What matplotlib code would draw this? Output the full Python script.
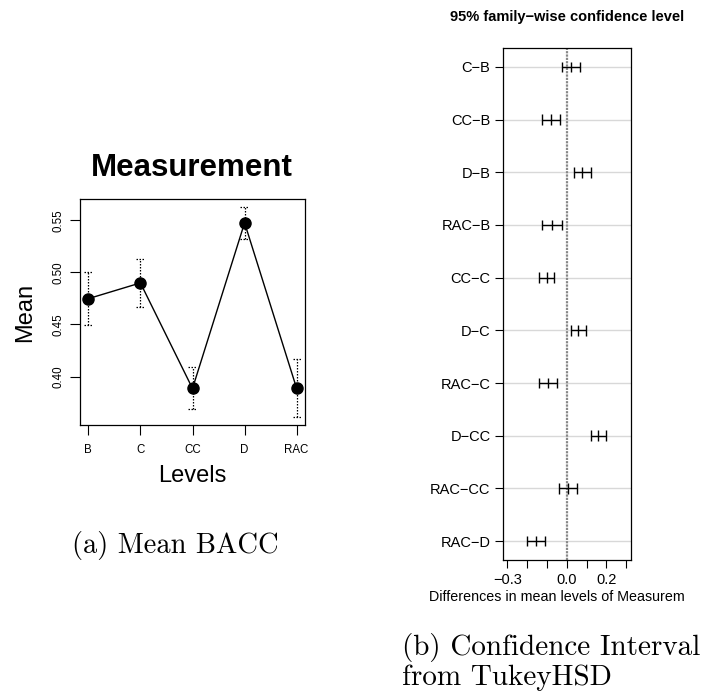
import matplotlib
matplotlib.use("Agg")
import matplotlib.pyplot as plt
import numpy as np

plt.rcParams["font.family"] = ["Liberation Sans", "DejaVu Sans"]

# Group means of BACC with their error bar limits
levels = ["B", "C", "CC", "D", "RAC"]
means = [0.4747, 0.4898, 0.3885, 0.5475, 0.3885]
err_low = [0.4497, 0.4667, 0.3686, 0.5321, 0.3615]
err_high = [0.5003, 0.5131, 0.4090, 0.5623, 0.4167]

# TukeyHSD pairwise differences (lower, estimate, upper)
pairs = ["C\u2212B", "CC\u2212B", "D\u2212B", "RAC\u2212B", "CC\u2212C",
         "D\u2212C", "RAC\u2212C", "D\u2212CC", "RAC\u2212CC", "RAC\u2212D"]
diff_lwr = [-0.022, -0.123, 0.037, -0.123, -0.140, 0.020, -0.140, 0.123, -0.039, -0.199]
diff_est = [0.020, -0.077, 0.079, -0.074, -0.101, 0.057, -0.094, 0.160, 0.007, -0.155]
diff_upr = [0.066, -0.034, 0.123, -0.024, -0.064, 0.096, -0.049, 0.197, 0.052, -0.109]
diff_ticks = [-0.3, -0.2, -0.1, 0.0, 0.1, 0.2, 0.3]
diff_ticklabels = ["\u22120.3", "", "", "0.0", "", "0.2", ""]

W, H = 702, 700
fig = plt.figure(figsize=(W / 100, H / 100), dpi=100)


def frac(x0, y0, x1, y1):
    return [x0 / W, 1 - y1 / H, (x1 - x0) / W, (y1 - y0) / H]


# ---- left panel: means plot ----
ax1 = fig.add_axes(frac(80, 199, 305, 425))
xpos = np.arange(1, len(levels) + 1)
ax1.plot(xpos, means, color="black", lw=1.0, zorder=2)
dots = (0, (1.2, 1.2))
ax1.vlines(xpos, err_low, err_high, colors="black", linestyles=dots, lw=0.9, zorder=1)
cap = 0.08
ax1.hlines(err_low, xpos - cap, xpos + cap, colors="black", linestyles=dots, lw=0.9)
ax1.hlines(err_high, xpos - cap, xpos + cap, colors="black", linestyles=dots, lw=0.9)
ax1.plot(xpos, means, "o", color="black", ms=8, zorder=3)
lo, hi = min(err_low), max(err_high)
pad = (hi - lo) * 0.04
ax1.set_ylim(lo - pad, hi + pad)
ax1.set_xlim(0.84, 5.16)
ax1.set_xticks(xpos)
ax1.set_xticklabels(levels, fontsize=8.3)
ax1.set_yticks([0.40, 0.45, 0.50, 0.55])
ax1.set_yticklabels(["0.40", "0.45", "0.50", "0.55"], fontsize=8.3, rotation=90, va="center")
ax1.tick_params(axis="x", length=7, width=0.8, pad=7)
ax1.tick_params(axis="y", length=7, width=0.8, pad=4)
for s in ax1.spines.values():
    s.set_linewidth(0.9)
ax1.set_xlabel("Levels", fontsize=17, labelpad=6)
ax1.set_ylabel("Mean", fontsize=17, labelpad=12)
fig.text(192 / W, 1 - 168 / H, "Measurement", fontsize=22.5, fontweight="bold",
         ha="center", va="center")

# ---- right panel: Tukey confidence intervals ----
ax2 = fig.add_axes(frac(503, 48, 631, 560))
n = len(pairs)
ypos = np.arange(n, 0, -1)
ax2.set_ylim(0.64, n + 0.36)
ax2.set_xlim(-0.3217, 0.3247)
for y in ypos:
    ax2.axhline(y, color="#d8d8d8", lw=1.0, zorder=0)
ax2.axvline(0, color="#888888", lw=1.6, linestyle=(0, (1, 0.5)), zorder=1)
ax2.hlines(ypos, diff_lwr, diff_upr, colors="black", lw=1.0, zorder=2)
tick_h = 0.1
for arr in (diff_lwr, diff_est, diff_upr):
    ax2.vlines(arr, ypos - tick_h, ypos + tick_h, colors="black", lw=1.0, zorder=2)
ax2.set_yticks(ypos)
ax2.set_yticklabels(pairs, fontsize=10.5)
ax2.set_xticks(diff_ticks)
ax2.set_xticklabels(diff_ticklabels, fontsize=10.5)
ax2.tick_params(length=6, width=0.8, pad=3)
for s in ax2.spines.values():
    s.set_linewidth(0.9)
fig.text(567 / W, 1 - 17.5 / H, "95% family\u2212wise confidence level", fontsize=10.5,
         fontweight="bold", ha="center", va="center")
fig.text(557 / W, 1 - 597 / H, "Differences in mean levels of Measurem", fontsize=10.3,
         ha="center", va="center")

# ---- sub-figure captions ----
fig.text(175 / W, 1 - 545 / H, "(a) Mean BACC", fontsize=20.5, family="cmr10",
         ha="center", va="center")
fig.text(402 / W, 1 - 655 / H, "(b) Confidence Interval", fontsize=21, family="cmr10",
         ha="left", va="baseline")
fig.text(402 / W, 1 - 685 / H, "from TukeyHSD", fontsize=21, family="cmr10",
         ha="left", va="baseline")

fig.savefig("out.png", dpi=100, facecolor="white")
